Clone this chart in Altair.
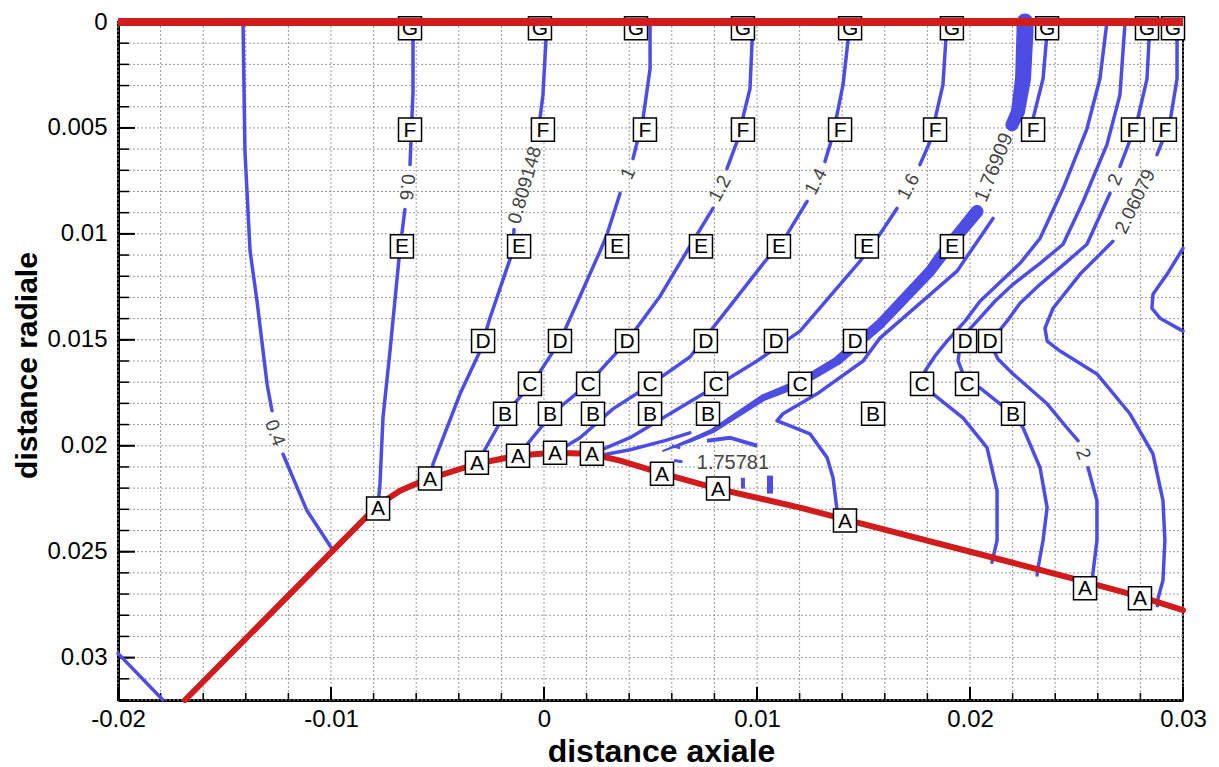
import altair as alt
import pandas as pd

# ---------------- data (metres) ----------------
X_GRID = [-0.02, -0.018, -0.016, -0.014, -0.012, -0.01, -0.008, -0.006, -0.004, -0.002, 0.0,
          0.002, 0.004, 0.006, 0.008, 0.01, 0.012, 0.014, 0.016, 0.018, 0.02, 0.022, 0.024,
          0.026, 0.028, 0.03]
Y_GRID = [0.0, 0.001, 0.002, 0.003, 0.004, 0.005, 0.006, 0.007, 0.008, 0.009, 0.01, 0.011,
          0.012, 0.013, 0.014, 0.015, 0.016, 0.017, 0.018, 0.019, 0.02, 0.021, 0.022, 0.023,
          0.024, 0.025, 0.026, 0.027, 0.028, 0.029, 0.03, 0.031, 0.032]
X_MAJOR = [-0.02, -0.01, 0.0, 0.01, 0.02, 0.03]
Y_MAJOR = [0.0, 0.005, 0.01, 0.015, 0.02, 0.025, 0.03]

# wall (red)
WALL_X = [-0.01685, -0.0099, -0.00779, -0.00676, -0.00568, -0.00315, -0.00127, 0.00038, 0.00216,
          0.00357, 0.00559, 0.00812, 0.01202, 0.01404, 0.02047, 0.02516, 0.02798, 0.0300]
WALL_Y = [0.0320, 0.02494, 0.0228, 0.02212, 0.02165, 0.02085, 0.02047, 0.02033, 0.02038,
          0.0207, 0.02132, 0.02202, 0.02292, 0.02345, 0.02512, 0.02635, 0.02712, 0.02776]
AXIS_LINE_X = [-0.02, 0.03]
AXIS_LINE_Y = [0.0, 0.0]

# iso-lines (blue), one list of segments per line
L04 = [[(-0.01413, 0.0), (-0.01404, 0.0061), (-0.0138, 0.0108), (-0.01347, 0.0132), (-0.0130, 0.0171), (-0.01277, 0.01835)],
       [(-0.01225, 0.0204), (-0.01113, 0.02306), (-0.0099, 0.02494)]]
CORNER = [[(-0.0200, 0.0298), (-0.01789, 0.0320)]]
L06 = [[(-0.00615, 0.0), (-0.00615, 0.0033), (-0.00629, 0.00673)],
       [(-0.00653, 0.00885), (-0.00676, 0.01068), (-0.00723, 0.01553), (-0.00756, 0.01868), (-0.0077, 0.02179), (-0.00779, 0.0228)]]
L08 = [[(0.00014, 0.0), (-0.00005, 0.00344), (-0.00019, 0.00456)],
       [(-0.00141, 0.00979), (-0.00146, 0.01082), (-0.00174, 0.01162), (-0.00254, 0.01398), (-0.0030, 0.01553),
        (-0.00394, 0.01755), (-0.00521, 0.02085), (-0.0053, 0.0215)]]
L10 = [[(0.00498, 0.0), (0.00498, 0.00221), (0.00465, 0.00456), (0.00418, 0.00645)],
       [(0.00357, 0.00809), (0.00296, 0.01002), (0.00263, 0.01082), (0.00169, 0.01294), (0.00075, 0.01506),
        (-0.00056, 0.01708), (-0.00183, 0.01849), (-0.00315, 0.02085)]]
L12 = [[(0.00981, 0.0), (0.00967, 0.00315), (0.00906, 0.00565), (0.00859, 0.00692)],
       [(0.00793, 0.0088), (0.00671, 0.01082), (0.00545, 0.01294), (0.0039, 0.01506), (0.00207, 0.01708),
        (0.00038, 0.01849), (-0.00122, 0.02047)]]
L14 = [[(0.01437, 0.0), (0.01404, 0.00296), (0.01357, 0.00532), (0.01319, 0.00659)],
       [(0.01235, 0.00847), (0.01141, 0.01002), (0.01075, 0.01082), (0.00873, 0.01341), (0.00685, 0.01581),
        (0.00498, 0.01713), (0.00324, 0.01826), (0.00169, 0.01962), (0.00052, 0.02033)]]
L16 = [[(0.01892, 0.0), (0.01873, 0.00296), (0.01812, 0.00565), (0.01765, 0.00673)],
       [(0.01657, 0.0088), (0.01577, 0.01002), (0.01484, 0.01129), (0.01202, 0.01459), (0.0100, 0.0160),
        (0.00817, 0.01713), (0.00638, 0.01821), (0.00404, 0.01962), (0.00225, 0.02038)]]
M1 = [[(0.02366, 0.0), (0.02343, 0.00268), (0.02296, 0.00456)],
      [(0.02108, 0.00927), (0.01939, 0.01176), (0.01577, 0.01492), (0.01498, 0.0160), (0.01282, 0.01755),
       (0.01122, 0.01849), (0.01094, 0.01882), (0.01155, 0.01906), (0.01249, 0.01944), (0.01329, 0.02056),
       (0.01357, 0.02151), (0.01376, 0.02306), (0.0138, 0.0234)]]
M2 = [[(0.02643, 0.0), (0.0261, 0.00268), (0.02549, 0.00504), (0.02437, 0.00786), (0.02329, 0.01021),
       (0.02235, 0.01139), (0.02131, 0.01238), (0.02047, 0.01318), (0.01977, 0.01412), (0.01892, 0.01506),
       (0.01836, 0.01576), (0.01789, 0.01647), (0.01775, 0.01708), (0.01826, 0.01755), (0.01967, 0.01868),
       (0.0208, 0.02009), (0.02127, 0.02212), (0.02127, 0.02447), (0.02103, 0.0255)]]
M3 = [[(0.02728, 0.0), (0.02704, 0.00344), (0.02643, 0.00579), (0.02531, 0.00847), (0.02437, 0.01049),
       (0.02329, 0.01139), (0.02202, 0.01238), (0.02117, 0.01318), (0.02033, 0.01412), (0.01977, 0.01473),
       (0.01953, 0.01529), (0.01944, 0.0160), (0.01986, 0.01708), (0.02047, 0.01727), (0.02141, 0.01802),
       (0.02202, 0.01849), (0.02249, 0.01915), (0.02329, 0.02104), (0.02362, 0.02292), (0.02343, 0.02447),
       (0.02319, 0.02579), (0.02315, 0.0261)]]
M4 = [[(0.02845, 0.0), (0.02831, 0.00268), (0.02784, 0.00471), (0.02704, 0.00682)],
      [(0.02657, 0.00809), (0.02549, 0.01049), (0.02446, 0.01139), (0.02329, 0.01238), (0.02235, 0.01327),
       (0.02174, 0.01412), (0.02117, 0.01482), (0.02103, 0.01529), (0.02131, 0.01591), (0.02202, 0.01661),
       (0.02362, 0.01802), (0.02455, 0.01915), (0.02507, 0.01976)],
      [(0.02554, 0.02104), (0.02596, 0.02259), (0.02596, 0.02447), (0.02577, 0.02602), (0.02575, 0.02675)]]
M5 = [[(0.02972, 0.0), (0.02972, 0.00268), (0.02939, 0.00471), (0.02878, 0.00626)],
      [(0.02671, 0.01035), (0.02516, 0.01191), (0.0239, 0.01351), (0.02352, 0.01445), (0.02362, 0.01506),
       (0.02423, 0.01553), (0.02596, 0.01661), (0.02751, 0.01849), (0.02859, 0.02038), (0.02906, 0.02259),
       (0.02915, 0.02447), (0.02906, 0.02635), (0.02883, 0.0272), (0.0288, 0.02755)]]
S_CURVE = [[(0.0300, 0.01068), (0.02925, 0.01191), (0.02859, 0.01285), (0.02854, 0.01351), (0.02892, 0.01398), (0.0300, 0.01459)]]
N1 = [[(0.00254, 0.02047), (0.00404, 0.02019), (0.00568, 0.01976), (0.00685, 0.01939)]]

# thick band (level 1.76909), width varies
BAND_LOW_X = [0.00559, 0.00685, 0.00793, 0.01028, 0.01202, 0.01376, 0.01577, 0.01812, 0.01906, 0.02033]
BAND_LOW_Y = [0.02024, 0.01976, 0.01929, 0.01774, 0.01704, 0.0160, 0.01426, 0.01176, 0.01049, 0.00894]
BAND_LOW_W = [2, 4, 5, 7, 8, 9, 10, 11, 12, 13]
BAND_HIGH_X = [0.02197, 0.02225, 0.02249, 0.02258, 0.02258]
BAND_HIGH_Y = [0.00485, 0.00424, 0.00268, 0.00047, 0.0]
BAND_HIGH_W = [13, 14, 16, 17, 17]

# small thick fragments near 1.75781
BITS = [([(0.00765, 0.01976), (0.00873, 0.01962), (0.0100, 0.0200)], 4),
        ([(0.00934, 0.02151), (0.00934, 0.02202)], 4),
        ([(0.01061, 0.02141), (0.01061, 0.02226)], 6),
        ([(0.0060, 0.0200), (0.0064, 0.0201)], 3),
        ([(0.0061, 0.0207), (0.0065, 0.02075)], 3)]

# boxed letters
BOX_LETTER = (["G"] * 9 + ["F"] * 9 + ["E"] * 7 + ["D"] * 8 + ["C"] * 7 + ["B"] * 7 + ["A"] * 11)
BOX_X = [-0.00629, -0.00019, 0.00432, 0.00934, 0.01437, 0.01915, 0.02362, 0.02831, 0.02953,
         -0.00629, -0.00005, 0.00474, 0.00934, 0.0139, 0.01836, 0.02296, 0.02765, 0.02915,
         -0.00667, -0.00117, 0.00343, 0.00737, 0.01103, 0.01516, 0.01915,
         -0.00286, 0.00075, 0.0039, 0.0076, 0.01089, 0.0146, 0.01977, 0.02094,
         -0.00066, 0.00207, 0.00498, 0.00808, 0.01202, 0.01775, 0.01986,
         -0.00183, 0.00028, 0.0023, 0.00498, 0.0077, 0.01545, 0.02202,
         -0.00779, -0.00535, -0.00315, -0.00122, 0.00052, 0.00225, 0.00554, 0.00817, 0.01413, 0.0254, 0.02798]
BOX_Y = ([0.0003] * 9 + [0.00508] * 9 + [0.01059] * 7 + [0.01506] * 8 + [0.01708] * 7 + [0.01849] * 7 +
         [0.02296, 0.02155, 0.0208, 0.02047, 0.02033, 0.02038, 0.02132, 0.02202, 0.02353, 0.02673, 0.0272])

# contour value labels
LAB_TEXT = ["0.4", "0.6", "0.809148", "1", "1.2", "1.4", "1.6", "1.76909", "2", "2.06079", "2", "1.75781"]
LAB_X = [-0.01263, -0.00643, -0.0009, 0.00394, 0.00826, 0.01277, 0.01711, 0.02113, 0.02681, 0.02775, 0.02531, 0.00887]
LAB_Y = [0.01939, 0.0078, 0.0077, 0.00715, 0.00786, 0.00753, 0.00777, 0.00687, 0.00744, 0.00847, 0.02038, 0.0208]
LAB_ANGLE = [70, 95, 286, 295, 298, 298, 298, 292, 292, 296, 70, 0]
LAB_SIZE = [19, 19, 19, 19, 19, 19, 19, 20, 19, 19, 19, 20]

# ---------------- tables ----------------
def seg_rows(name, segs):
    rows = []
    for s, seg in enumerate(segs):
        for i, (x, y) in enumerate(seg):
            rows.append({"x": x, "y": y, "seg": f"{name}_{s}", "i": i})
    return rows

blue_rows = []
for nm, segs in [("l04", L04), ("corner", CORNER), ("l06", L06), ("l08", L08), ("l10", L10), ("l12", L12),
                 ("l14", L14), ("l16", L16), ("m1", M1), ("m2", M2), ("m3", M3), ("m4", M4), ("m5", M5),
                 ("s", S_CURVE), ("n1", N1)]:
    blue_rows += seg_rows(nm, segs)
blue_df = pd.DataFrame(blue_rows)

band_df = pd.DataFrame(
    [{"x": x, "y": y, "w": w, "seg": "low", "i": i} for i, (x, y, w) in enumerate(zip(BAND_LOW_X, BAND_LOW_Y, BAND_LOW_W))] +
    [{"x": x, "y": y, "w": w, "seg": "high", "i": i} for i, (x, y, w) in enumerate(zip(BAND_HIGH_X, BAND_HIGH_Y, BAND_HIGH_W))])

bits_rows = []
for k, (pts, w) in enumerate(BITS):
    for i, (x, y) in enumerate(pts):
        bits_rows.append({"x": x, "y": y, "w": w, "seg": f"b{k}", "i": i})
bits_df = pd.DataFrame(bits_rows)

wall_df = pd.DataFrame({"x": WALL_X, "y": WALL_Y, "i": list(range(len(WALL_X)))})
top_df = pd.DataFrame({"x": AXIS_LINE_X, "y": AXIS_LINE_Y, "i": [0, 1]})
box_df = pd.DataFrame({"x": BOX_X, "y": BOX_Y, "t": BOX_LETTER})
lab_df = pd.DataFrame({"x": LAB_X, "y": LAB_Y, "t": LAB_TEXT, "a": LAB_ANGLE, "s": LAB_SIZE})
xgrid_df = pd.DataFrame({"x": X_GRID})
ygrid_df = pd.DataFrame({"y": Y_GRID})
xmaj_df = pd.DataFrame({"x": X_MAJOR})
ymaj_df = pd.DataFrame({"y": Y_MAJOR})

# ---------------- encodings ----------------
W, H = 1065, 678
FONT = "Liberation Sans"
BLUE = "#4d4de6"
RED = "#d01c1c"

xscale = alt.Scale(domain=[-0.02, 0.03], nice=False, zero=False)
yscale = alt.Scale(domain=[0, 0.032], nice=False, zero=False, reverse=True)
lab_expr = "datum.value < 0 ? '-' + format(-datum.value, '~g') : format(datum.value, '~g')"
xaxis = alt.Axis(values=X_MAJOR, grid=False, ticks=False, tickSize=0, labelExpr=lab_expr,
                 title="distance axiale", labelFontSize=24, labelFont=FONT, labelColor="black",
                 labelPadding=26, labelBaseline="alphabetic", labelFlush=False, labelOverlap=False,
                 titleFontSize=32, titleFont=FONT, titleFontWeight="bold", titleColor="black",
                 titleX=543, titleY=61, titleBaseline="alphabetic", titleAlign="center",
                 domainColor="black", domainWidth=3)
yaxis = alt.Axis(values=Y_MAJOR, grid=False, ticks=False, tickSize=0, labelExpr=lab_expr,
                 title="distance radiale", labelFontSize=24, labelFont=FONT, labelColor="black",
                 labelPadding=11, labelBaseline="middle", labelFlush=False, labelOverlap=False,
                 titleFontSize=30, titleFont=FONT, titleFontWeight="bold", titleColor="black",
                 titleAngle=270, titleX=-91, titleY=343, titleBaseline="middle", titleAlign="center",
                 domainColor="black", domainWidth=3)

def X():
    return alt.X("x:Q", scale=xscale, axis=xaxis)

def Y():
    return alt.Y("y:Q", scale=yscale, axis=yaxis)

gx = alt.Chart(xgrid_df).mark_rule(color="#9a9a9a", strokeWidth=1, strokeDash=[2, 2]).encode(x=X())
gy = alt.Chart(ygrid_df).mark_rule(color="#9a9a9a", strokeWidth=1, strokeDash=[2, 2]).encode(y=Y())

blue = alt.Chart(blue_df).mark_line(color=BLUE, strokeWidth=3.5, strokeCap="round", strokeJoin="round").encode(
    x=X(), y=Y(), detail="seg:N", order="i:Q")
band = alt.Chart(band_df).mark_trail(color=BLUE).encode(
    x=X(), y=Y(), size=alt.Size("w:Q", scale=None, legend=None), detail="seg:N", order="i:Q")
bits = alt.Chart(bits_df).mark_line(color=BLUE, strokeCap="butt").encode(
    x=X(), y=Y(), strokeWidth=alt.StrokeWidth("w:Q", scale=None, legend=None), detail="seg:N", order="i:Q")
wall = alt.Chart(wall_df).mark_line(color=RED, strokeWidth=6, strokeCap="round", strokeJoin="round").encode(
    x=X(), y=Y(), order="i:Q")
boxes = alt.Chart(box_df).mark_square(size=530, filled=True, fill="white", stroke="black",
                                      strokeWidth=1.5, opacity=1).encode(x=X(), y=Y())
letters = alt.Chart(box_df).mark_text(font=FONT, fontSize=21, color="black", align="center",
                                      baseline="middle", dy=1).encode(x=X(), y=Y(), text="t:N")
labels = alt.Chart(lab_df).mark_text(font=FONT, color="#444444", align="center",
                                     baseline="middle").encode(
    x=X(), y=Y(), text="t:N", angle=alt.Angle("a:Q", scale=None),
    size=alt.Size("s:Q", scale=None, legend=None))

xt_min = alt.Chart(xgrid_df).mark_rule(color="black", strokeWidth=1.5).encode(
    x=X(), y=alt.value(H), y2=alt.value(H - 7))
xt_maj = alt.Chart(xmaj_df).mark_rule(color="black", strokeWidth=2).encode(
    x=X(), y=alt.value(H), y2=alt.value(H - 13))
yt_min = alt.Chart(ygrid_df).mark_rule(color="black", strokeWidth=1.5).encode(
    y=Y(), x=alt.value(0), x2=alt.value(11))
yt_maj = alt.Chart(ymaj_df).mark_rule(color="black", strokeWidth=2).encode(
    y=Y(), x=alt.value(0), x2=alt.value(17))
top = alt.Chart(top_df).mark_line(color=RED, strokeWidth=8).encode(x=X(), y=Y(), order="i:Q")

chart = alt.layer(gx, gy, xt_min, xt_maj, yt_min, yt_maj, blue, band, bits, wall, boxes, letters, labels, top).properties(
    width=W, height=H,
    autosize=alt.AutoSizeParams(type="none"),
    padding={"left": 110, "top": 14, "right": 28, "bottom": 67},
    background="white",
).configure_view(stroke="black", strokeWidth=2)

chart.save("out.html", embed_options={"renderer": "svg", "actions": False})
